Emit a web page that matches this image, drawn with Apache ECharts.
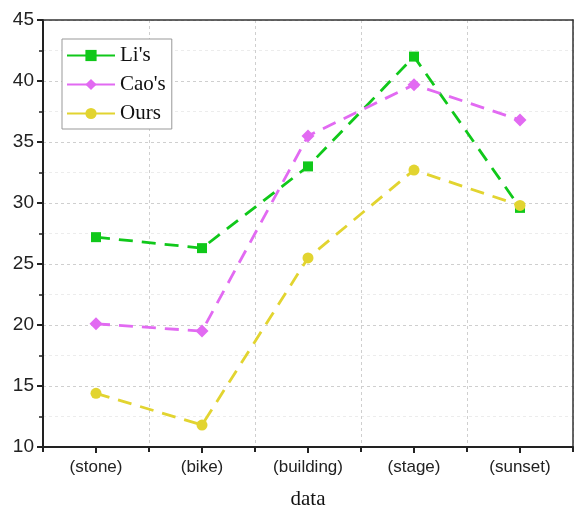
<!DOCTYPE html>
<html>
<head>
<meta charset="utf-8">
<script src="https://cdn.jsdelivr.net/npm/echarts@6/dist/echarts.min.js"></script>
<style>
  html, body { margin: 0; padding: 0; background: #fff; }
  #main { width: 575px; height: 512px; }
</style>
</head>
<body>
<div id="main"></div>
<script>
// categories and values
var categories = ['(stone)', '(bike)', '(building)', '(stage)', '(sunset)']
var liValues = [27.2, 26.3, 33.0, 42.0, 29.6]
var caoValues = [20.1, 19.5, 35.5, 39.7, 36.8]
var oursValues = [14.4, 11.8, 25.5, 32.7, 29.8]
var seriesNames = ["Li's", "Cao's", 'Ours']

var myChart = echarts.init(document.getElementById('main'))

var sans = 'Liberation Sans'
var serif = 'Liberation Serif'

function makeSeries (name, data, color, symbol, size) {
  return {
    name: name,
    type: 'line',
    data: data,
    symbol: symbol,
    symbolSize: size,
    itemStyle: { color: color },
    lineStyle: { color: color, width: 2.8, type: [14, 9] },
    z: 3
  }
}

// frame-only axis (top / right border)
var frameLine = { show: true, lineStyle: { color: '#333', width: 1.5 } }

var option = {
  animation: false,
  grid: {
    left: 43,
    right: 2,
    top: 20,
    bottom: 65,
    outerBoundsMode: 'none',
    containLabel: false
  },
  legend: {
    orient: 'vertical',
    left: 62,
    top: 39,
    data: seriesNames,
    itemWidth: 48,
    itemHeight: 14,
    itemGap: 8,
    padding: [6, 6, 5, 4],
    borderColor: '#999',
    borderWidth: 1,
    backgroundColor: '#fff',
    lineStyle: { type: 'solid' },
    textStyle: { fontFamily: serif, fontSize: 21, color: '#111' }
  },
  xAxis: [{
    type: 'category',
    data: categories,
    boundaryGap: true,
    name: 'data',
    nameLocation: 'middle',
    nameGap: 42,
    nameTextStyle: { fontFamily: serif, fontSize: 21, color: '#111' },
    axisLine: { lineStyle: { color: '#222', width: 2 } },
    axisTick: { show: true, alignWithLabel: false, length: 5, lineStyle: { color: '#222', width: 2 } },
    axisLabel: { fontFamily: sans, fontSize: 17, color: '#222', margin: 12 },
    splitLine: { show: true, lineStyle: { color: '#ececec', type: [3, 3] } }
  }, {
    type: 'category',
    data: categories,
    boundaryGap: true,
    position: 'bottom',
    axisLine: { show: false },
    axisTick: { show: true, alignWithLabel: true, length: 6, lineStyle: { color: '#222', width: 2 } },
    axisLabel: { show: false },
    splitLine: { show: true, lineStyle: { color: '#cfcfcf', type: [3, 3] } }
  }, {
    type: 'category',
    data: categories,
    position: 'top',
    axisLine: frameLine,
    axisTick: { show: false },
    axisLabel: { show: false },
    splitLine: { show: false }
  }],
  yAxis: [{
    type: 'value',
    min: 10,
    max: 45,
    interval: 5,
    axisLine: { show: true, lineStyle: { color: '#222', width: 2 } },
    axisTick: { show: true, length: 6, lineStyle: { color: '#222', width: 2 } },
    minorTick: { show: true, splitNumber: 2, length: 4, lineStyle: { color: '#222', width: 1.5 } },
    axisLabel: { fontFamily: sans, fontSize: 19, color: '#222', margin: 9 },
    splitLine: { show: true, lineStyle: { color: '#cfcfcf', type: [3, 3] } },
    minorSplitLine: { show: true, lineStyle: { color: '#ececec', type: [3, 3] } }
  }, {
    type: 'value',
    min: 10,
    max: 45,
    interval: 5,
    position: 'right',
    axisLine: frameLine,
    axisTick: { show: false },
    axisLabel: { show: false },
    splitLine: { show: false }
  }],
  series: [
    makeSeries(seriesNames[0], liValues, '#10c81a', 'rect', 10),
    makeSeries(seriesNames[1], caoValues, '#e26af2', 'diamond', 13),
    makeSeries(seriesNames[2], oursValues, '#e2d430', 'circle', 11)
  ]
}
myChart.setOption(option, true)
</script>
</body>
</html>
